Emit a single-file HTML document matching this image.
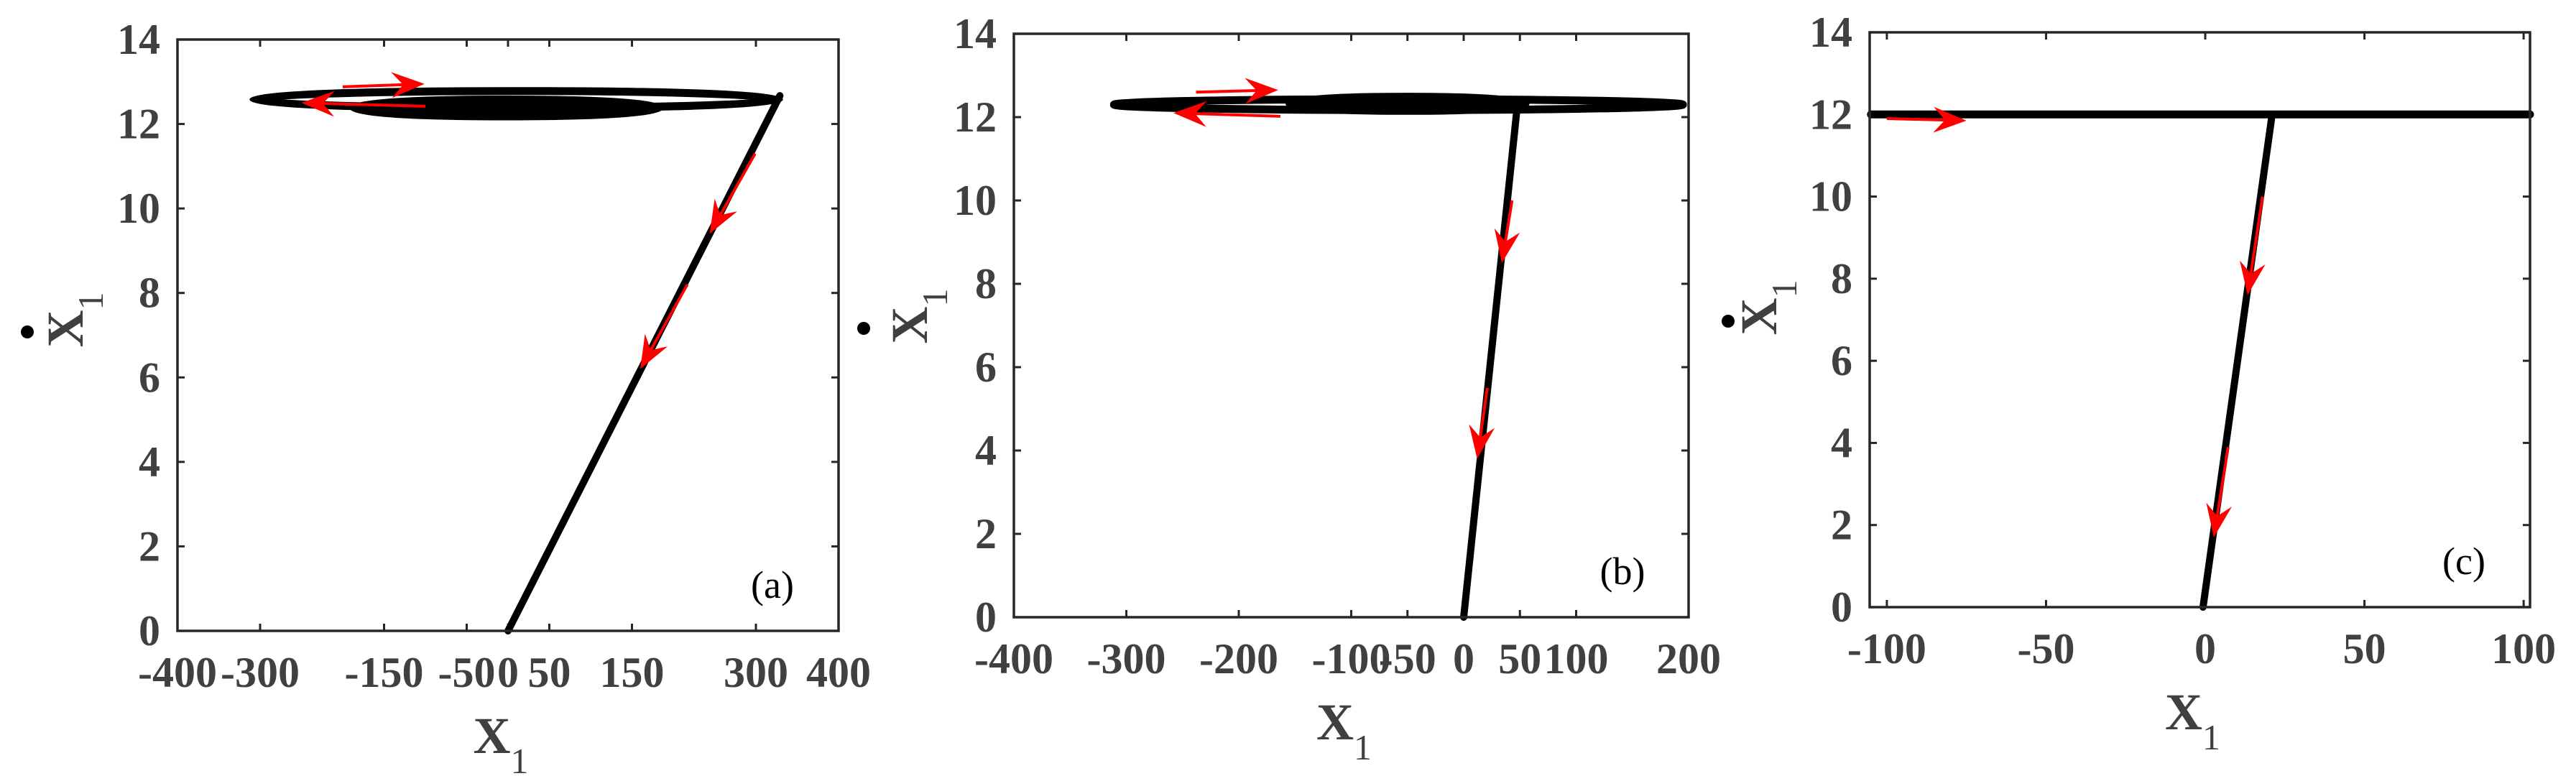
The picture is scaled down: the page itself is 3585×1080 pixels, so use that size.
<!DOCTYPE html>
<html><head><meta charset="utf-8"><title>Phase portraits</title>
<style>
html,body{margin:0;padding:0;background:#fff;}
svg{display:block;}
</style></head>
<body>
<svg id="fig" width="3585" height="1080" xmlns="http://www.w3.org/2000/svg" font-family="'Liberation Serif', 'Times New Roman', serif"></svg>
<script>
// ---- Panel data ----
const panelLabels = ["(a)", "(b)", "(c)"];
const xTicksA = [-400, -300, -150, -50, 0, 50, 150, 300, 400];
const xTicksB = [-400, -300, -200, -100, -50, 0, 50, 100, 200];
const xTicksC = [-100, -50, 0, 50, 100];
const yTicks = [0, 2, 4, 6, 8, 10, 12, 14];
// trajectory straight segment (x, y)
const lineXA = [0, 329];  const lineYA = [0, 12.67];
const lineXB = [0, 47];   const lineYB = [0, 12.1];
const lineXC = [-0.7, 21]; const lineYC = [0, 12];
// spiral loops (center x, half width, center y, half height, filled?)
const loopCxA = [10, -2, 0];   const loopRxA = [318, 185, 95];  const loopCyA = [12.58, 12.38, 12.32]; const loopRyA = [0.2, 0.2, 0.13]; const loopFillA = [0, 0, 1];
const loopCxB = [-58, -50, -40]; const loopRxB = [253, 105, 80]; const loopCyB = [12.3, 12.32, 12.3]; const loopRyB = [0.13, 0.17, 0.12]; const loopFillB = [0, 1, 1];
const hLineXC = [-105, 102]; const hLineYC = [12, 12];
// red arrows: tail -> head
const arrTxA = [-200, -100, 299, 217]; const arrTyA = [12.88, 12.42, 11.3, 8.2]; const arrHxA = [-101, -250, 244, 160]; const arrHyA = [12.95, 12.5, 9.4, 6.2];
const arrTxB = [-238, -163, 43, 21]; const arrTyB = [12.6, 12.02, 10, 5.5]; const arrHxB = [-165, -258, 34, 12]; const arrHyB = [12.65, 12.1, 8.5, 3.8];
const arrTxC = [-100, 18, 7.2]; const arrTyC = [11.9, 10, 3.9]; const arrHxC = [-75, 13.3, 2.7]; const arrHyC = [11.85, 7.6, 1.7];

const NS = "http://www.w3.org/2000/svg";
const svg = document.getElementById("fig");
const SERIF = "'Liberation Serif', 'Times New Roman', serif";
function mk(tag, attrs, parent){ const e=document.createElementNS(NS,tag); for(const k in attrs) e.setAttribute(k,attrs[k]); (parent||svg).appendChild(e); return e; }

const panels = [
  {L:247,R:1167,T:55,B:878,x0:-400,x1:400,xt:xTicksA,lx:lineXA,ly:lineYA,lcx:loopCxA,lrx:loopRxA,lcy:loopCyA,lry:loopRyA,lf:loopFillA,atx:arrTxA,aty:arrTyA,ahx:arrHxA,ahy:arrHyA,lab:panelLabels[0],yl:[115,445],dot:[38,462]},
  {L:1411,R:2350,T:47,B:859,x0:-400,x1:200,xt:xTicksB,lx:lineXB,ly:lineYB,lcx:loopCxB,lrx:loopRxB,lcy:loopCyB,lry:loopRyB,lf:loopFillB,atx:arrTxB,aty:arrTyB,ahx:arrHxB,ahy:arrHyB,lab:panelLabels[1],yl:[1290,440],dot:[1202,457]},
  {L:2602,R:3521,T:45,B:845,x0:-105.4,x1:102,xt:xTicksC,lx:lineXC,ly:lineYC,lcx:[],lrx:[],lcy:[],lry:[],lf:[],atx:arrTxC,aty:arrTyC,ahx:arrHxC,ahy:arrHyC,lab:panelLabels[2],yl:[2472,428],dot:[2405,447],h:[hLineXC,hLineYC]}
];

panels.forEach((p,pi)=>{
  const g = mk("g",{});
  
  
  const sx = v => p.L + (v-p.x0)/(p.x1-p.x0)*(p.R-p.L);
  const sy = v => p.B - v/14*(p.B-p.T);
  p.xt.forEach(t=>{
    const x=sx(t);
    mk("line",{x1:x,x2:x,y1:p.B,y2:p.B-10,stroke:"#262626","stroke-width":3},g);
    mk("line",{x1:x,x2:x,y1:p.T,y2:p.T+10,stroke:"#262626","stroke-width":3},g);
    const tx=mk("text",{x:x,y:p.B+78,"text-anchor":"middle","font-family":SERIF,"font-weight":"bold","font-size":"60",fill:"#404040"},g);
    tx.textContent=t;
    
    
  });
  yTicks.forEach(t=>{
    const y=sy(t);
    mk("line",{x1:p.L,x2:p.L+10,y1:y,y2:y,stroke:"#262626","stroke-width":3},g);
    mk("line",{x1:p.R,x2:p.R-10,y1:y,y2:y,stroke:"#262626","stroke-width":3},g);
    const tx=mk("text",{x:p.L-24,y:y+20,"text-anchor":"end","font-family":SERIF,"font-weight":"bold","font-size":"60",fill:"#404040"},g);
    tx.textContent=t;
    
    
  });
  for(let i=0;i<p.lcx.length;i++){
    const cx=sx(p.lcx[i]), rx=Math.abs(sx(p.lcx[i]+p.lrx[i])-cx), cy=sy(p.lcy[i]), ry=Math.abs(sy(p.lcy[i]+p.lry[i])-cy);
    const e=mk("ellipse",{cx:cx,cy:cy,rx:rx,ry:ry,fill:p.lf[i]?"#000":"none",stroke:"#000","stroke-width":11},g);
    
    
  }
  if(p.h){
    const hl=mk("line",{x1:sx(p.h[0][0]),x2:sx(p.h[0][1]),y1:sy(p.h[1][0]),y2:sy(p.h[1][1]),stroke:"#000","stroke-width":11,"stroke-linecap":"round"},g);
    
    
  }
  const ln=mk("line",{x1:sx(p.lx[0]),x2:sx(p.lx[1]),y1:sy(p.ly[0]),y2:sy(p.ly[1]),stroke:"#000","stroke-width":10,"stroke-linecap":"round"},g);
  
  
  for(let i=0;i<p.atx.length;i++){
    const x1=sx(p.atx[i]),y1=sy(p.aty[i]),x2=sx(p.ahx[i]),y2=sy(p.ahy[i]);
    const dx=x2-x1,dy=y2-y1,len=Math.hypot(dx,dy),ux=dx/len,uy=dy/len,nx=-uy,ny=ux;
    const ag=mk("g",{},g);
    
    
    mk("line",{x1:x1,y1:y1,x2:x2-ux*20,y2:y2-uy*20,stroke:"#f00","stroke-width":4},ag);
    const hl=46,hw=18,nt=30;
    const pts=[[x2,y2],[x2-ux*hl+nx*hw,y2-uy*hl+ny*hw],[x2-ux*nt,y2-uy*nt],[x2-ux*hl-nx*hw,y2-uy*hl-ny*hw]];
    mk("polygon",{points:pts.map(q=>q.join(",")).join(" "),fill:"#f00"},ag);
  }
  const fr=mk("rect",{x:p.L,y:p.T,width:p.R-p.L,height:p.B-p.T,fill:"none",stroke:"#262626","stroke-width":3.5},g);
  
  
  const pl=mk("text",{x:p.R-92,y:p.B-46,"text-anchor":"middle","font-family":SERIF,"font-size":"54",fill:"#000"},g);
  pl.textContent=p.lab;
  
  
  const xt=mk("text",{x:(p.L+p.R)/2-10,y:p.B+170,"text-anchor":"middle","font-family":SERIF,"font-weight":"bold","font-size":"72",fill:"#404040"},g);
  
  
  const s1=mk("tspan",{},xt); s1.textContent="X";
  const s2=mk("tspan",{dy:"28","font-size":"50","font-weight":"normal"},xt); s2.textContent="1";
  const yt=mk("text",{x:0,y:0,"text-anchor":"middle","font-family":SERIF,"font-weight":"bold","font-size":"72",fill:"#404040",transform:"translate("+p.yl[0]+","+p.yl[1]+") rotate(-90)"},g);
  
  
  const t1=mk("tspan",{},yt); t1.textContent="X";
  const t2=mk("tspan",{dy:"28","font-size":"50","font-weight":"normal"},yt); t2.textContent="1";
  const d=mk("circle",{cx:p.dot[0],cy:p.dot[1],r:9,fill:"#000"},g);
  
  
});
</script>
</body></html>
